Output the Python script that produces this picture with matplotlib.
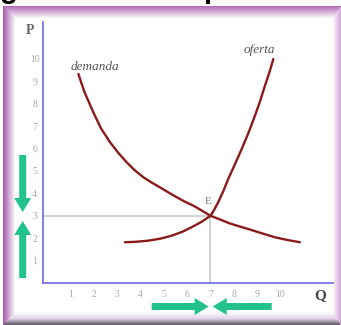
import numpy as np
import matplotlib
matplotlib.use("Agg")
import matplotlib.pyplot as plt
from matplotlib.patches import FancyArrow

# ---- data ----
x_ticks = [1, 2, 3, 4, 5, 6, 7, 8, 9, 10]
y_ticks = [1, 2, 3, 4, 5, 6, 7, 8, 9, 10]
demand_q = [1.33, 1.45, 1.6, 1.97, 2.3, 2.69, 3.05, 3.4, 3.75, 4.12, 4.48, 4.83, 5.2,
            5.55, 5.9, 6.27, 6.65, 7.0, 7.4, 7.8, 8.2, 8.62, 9.2, 9.77, 10.3, 10.84]
demand_p = [9.33, 8.95, 8.5, 7.62, 6.9, 6.28, 5.8, 5.39, 5.03, 4.72, 4.48, 4.27, 4.04,
            3.83, 3.63, 3.45, 3.22, 3.0, 2.84, 2.67, 2.54, 2.41, 2.22, 2.04, 1.92, 1.82]
supply_q = [3.33, 3.8, 4.33, 4.85, 5.33, 5.8, 6.19, 6.65, 7.0, 7.15, 7.33, 7.55, 7.76,
            8.05, 8.34, 8.63, 8.91, 9.14, 9.34, 9.53, 9.70]
supply_p = [1.82, 1.84, 1.89, 1.98, 2.11, 2.29, 2.49, 2.75, 3.0, 3.25, 3.60, 4.1, 4.64,
            5.3, 5.98, 6.7, 7.47, 8.15, 8.81, 9.4, 10.0]
eq_q, eq_p = 7, 3

W, H = 341, 325
fig = plt.figure(figsize=(W / 100, H / 100), dpi=100)

# ---- background frame (pixel coordinates) ----
bg = fig.add_axes([0, 0, 1, 1])
bg.set_xlim(0, W)
bg.set_ylim(H, 0)
bg.axis("off")

img = np.ones((H, W, 3))
yy, xx = np.mgrid[0:H, 0:W]
inside = (xx >= 3) & (yy >= 6)
dl = (xx - 3) / 12.0
dt = (yy - 6) / 12.0
dr = (W - 1 - xx) / 8.0
db = (H - 1 - yy) / 13.0
dstack = np.stack([dl, dt, dr, db])
which = np.argmin(dstack, axis=0)
dmin = np.min(dstack, axis=0)
left_c = np.array([170, 95, 175]) / 255
top_c = np.array([180, 110, 185]) / 255
right_c = np.array([210, 170, 215]) / 255
bot_c = np.array([100, 95, 105]) / 255
bot_mid = np.array([225, 210, 232]) / 255
white = np.ones(3)
for j in range(H):
    for i in range(W):
        if not inside[j, i]:
            continue
        t = dmin[j, i]
        if t >= 1:
            continue
        t = max(t, 0)
        w = which[j, i]
        if w == 0:
            c = left_c + (white - left_c) * t
        elif w == 1:
            c = top_c + (white - top_c) * t
        elif w == 2:
            c = right_c + (white - right_c) * t
        else:
            if t < 0.45:
                c = bot_c + (bot_mid - bot_c) * (t / 0.45)
            else:
                c = bot_mid + (white - bot_mid) * ((t - 0.45) / 0.55)
        img[j, i] = c
bg.imshow(img, extent=(0, W, H, 0), aspect="auto", interpolation="bilinear", zorder=0)

# clipped heading letters at the top (cut off in the reference as well)
bg.text(0, -2, "g", fontsize=21, fontweight="bold", family="Liberation Sans",
        color="black", va="baseline", ha="left", clip_on=False)
bg.text(203, -2, "p", fontsize=21, fontweight="bold", family="Liberation Sans",
        color="black", va="baseline", ha="left", clip_on=False)

green = "#22c38a"
arrow_kw = dict(width=7, head_width=17, head_length=14, length_includes_head=True,
                color=green, ec="none")
bg.add_patch(FancyArrow(22.7, 155, 0, 57, **arrow_kw))
bg.add_patch(FancyArrow(22.7, 278, 0, -57, **arrow_kw))
bg.add_patch(FancyArrow(151.7, 306.5, 57, 0, **arrow_kw))
bg.add_patch(FancyArrow(271.7, 306.5, -59, 0, **arrow_kw))

bg.text(30, 31, "P", fontsize=10, fontweight="bold", family="Liberation Serif",
        color="#666666", ha="center", va="center")
bg.text(320, 296, "Q", fontsize=11, fontweight="bold", family="Liberation Serif",
        color="#444444", ha="center", va="center")

# ---- main axes ----
ax = fig.add_axes([43 / W, (H - 283) / H, (333 - 43) / W, (283 - 22) / H])
ax.patch.set_alpha(0)
ax.set_xlim(-0.19, 12.26)
ax.set_ylim(0.0, 11.65)
for s in ["top", "right"]:
    ax.spines[s].set_visible(False)
for s in ["left", "bottom"]:
    ax.spines[s].set_color("#6a6ae6")
    ax.spines[s].set_linewidth(1.2)
ax.set_xticks(x_ticks)
ax.set_yticks(y_ticks)
ax.set_xticklabels([str(v) for v in x_ticks], family="Liberation Serif", fontsize=7, color="#aaaaaa")
ax.set_yticklabels([str(v) for v in y_ticks], family="Liberation Serif", fontsize=7, color="#aaaaaa")
ax.tick_params(axis="both", length=0)
ax.tick_params(axis="x", pad=5)
ax.tick_params(axis="y", pad=6)
for lab in ax.get_yticklabels():
    lab.set_ha("center")

# guide lines
ax.plot([ax.get_xlim()[0], eq_q], [eq_p, eq_p], color="#c8c8c8", lw=1.1, zorder=1, clip_on=False)
ax.plot([eq_q, eq_q], [0, eq_p], color="#c8c8c8", lw=1.1, zorder=1)

curve_c = "#8b1a1a"
ax.plot(demand_q, demand_p, color=curve_c, lw=1.7, solid_capstyle="round",
        solid_joinstyle="round", zorder=3)
ax.plot(supply_q, supply_p, color=curve_c, lw=1.7, solid_capstyle="round",
        solid_joinstyle="round", zorder=3)

ax.text(2.04, 9.64, "demanda", fontsize=9.5, style="italic", family="Liberation Serif",
        color="#555555", ha="center", va="center")
ax.text(9.08, 10.4, "oferta", fontsize=9.5, style="italic", family="Liberation Serif",
        color="#555555", ha="center", va="center")
ax.text(6.89, 3.62, "E", fontsize=8, family="Liberation Serif", color="#777777",
        ha="center", va="center")

fig.savefig("out.png", dpi=100)
